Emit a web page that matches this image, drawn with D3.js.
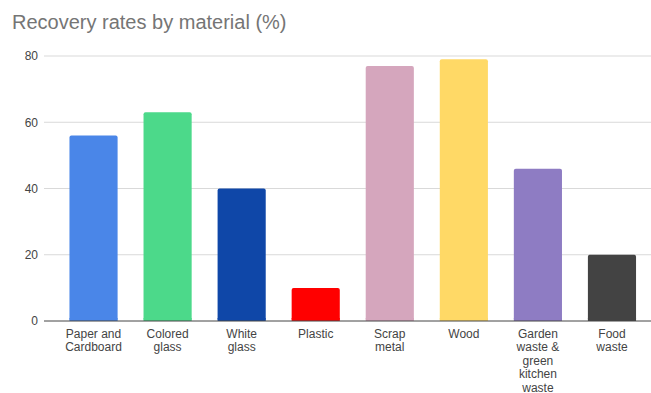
<!DOCTYPE html>
<html><head><meta charset="utf-8">
<script src="https://cdn.jsdelivr.net/npm/d3@7"></script>
<style>body{margin:0;background:#fff}svg{display:block;font-family:"Liberation Sans",Arial,sans-serif}</style>
</head><body><svg id="c" width="651" height="393"></svg>
<script>
const categories = [["Paper and","Cardboard"],["Colored","glass"],["White","glass"],["Plastic"],["Scrap","metal"],["Wood"],["Garden","waste &","green","kitchen","waste"],["Food","waste"]];
const values = [56, 63, 40, 10, 77, 79, 46, 20];
const colors = ["#4a86e8","#4cd98a","#0f47a8","#ff0000","#d5a6bd","#ffd966","#8e7cc3","#434343"];
const yTicks = [0, 20, 40, 60, 80];
const title = "Recovery rates by material (%)";

const svg = d3.select("#c");
const x = d3.scaleBand().domain(d3.range(categories.length)).range([56.5, 649]).paddingInner(0.35).paddingOuter(0.175);
const y = d3.scaleLinear().domain([0, 80]).range([321, 56]);

svg.append("text").attr("x", 12).attr("y", 29).attr("fill", "#757575").attr("font-size", 20).text(title);

const grid = svg.append("g");
grid.selectAll("line").data(yTicks.filter(d => d !== 0)).join("line")
  .attr("x1", 44).attr("x2", 651).attr("y1", d => y(d)).attr("y2", d => y(d))
  .attr("stroke", "#d9d9d9").attr("stroke-width", 1);

const yAxis = d3.axisLeft(y).tickValues(yTicks).tickSize(0).tickPadding(0);
const ya = svg.append("g").attr("transform", "translate(38,0)").call(yAxis);
ya.select(".domain").remove();
ya.selectAll("text").attr("fill", "#444").attr("font-size", 12).attr("font-family", "Liberation Sans, Arial, sans-serif");

svg.append("g").selectAll("rect").data(values).join("rect")
  .attr("x", (d, i) => x(i)).attr("width", x.bandwidth())
  .attr("y", d => y(d)).attr("height", d => y(0) - y(d))
  .attr("rx", 2).attr("fill", (d, i) => colors[i]);
svg.append("g").selectAll("rect").data(values).join("rect")
  .attr("x", (d, i) => x(i)).attr("width", x.bandwidth())
  .attr("y", d => Math.max(y(d) + 3, y(0) - 3)).attr("height", d => y(0) - Math.max(y(d) + 3, y(0) - 3))
  .attr("fill", (d, i) => colors[i]);

svg.append("line").attr("x1", 44).attr("x2", 651).attr("y1", y(0)).attr("y2", y(0)).attr("stroke", "#444").attr("stroke-width", 1);

const xl = svg.append("g");
categories.forEach((lines, i) => {
  const t = xl.append("text").attr("text-anchor", "middle").attr("fill", "#444").attr("font-size", 12)
    .attr("transform", `translate(${x(i) + x.bandwidth() / 2},337.5)`);
  lines.forEach((l, j) => t.append("tspan").attr("x", 0).attr("y", j * 13.5).text(l));
});
</script></body></html>
